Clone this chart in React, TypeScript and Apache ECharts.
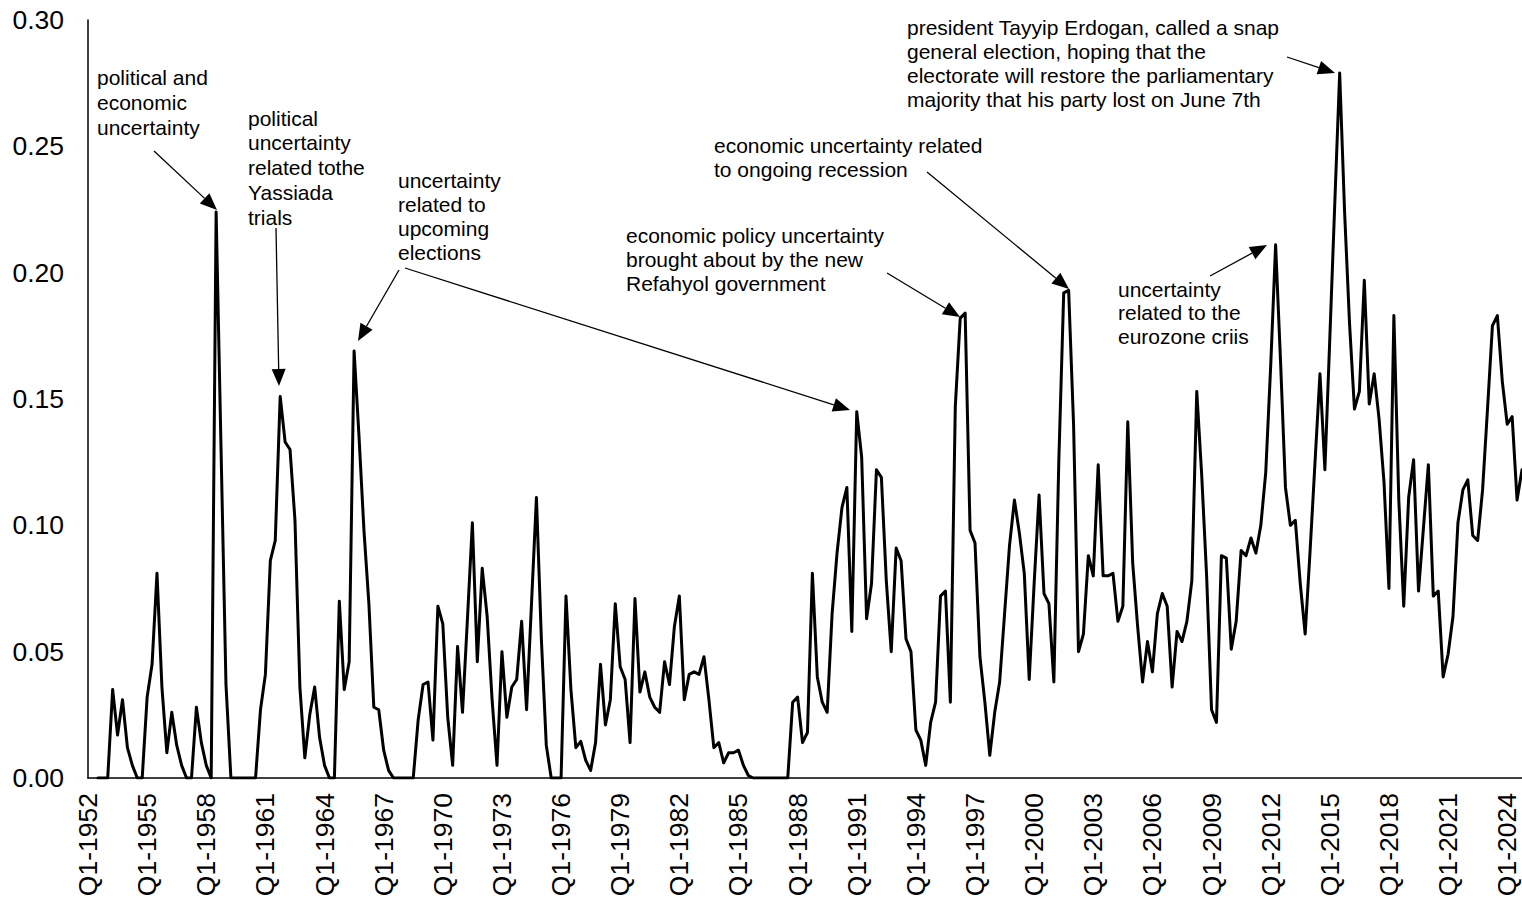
import React, { useEffect, useRef } from "react";
import * as echarts from "echarts";

// Quarterly uncertainty index, Q1-1952 .. Q4-2024 (null = no data)
const values1950s = [null, null, 0, 0, 0, 0.035, 0.017, 0.031, 0.012, 0.005, 0, 0, 0.032, 0.045, 0.081, 0.036, 0.010, 0.026, 0.013, 0.005, 0, 0, 0.028, 0.014, 0.005, 0, 0.224, 0.13, 0.037, 0, 0, 0];
const values1960s = [0, 0, 0, 0.027, 0.041, 0.086, 0.094, 0.151, 0.133, 0.130, 0.102, 0.036, 0.008, 0.025, 0.036, 0.016, 0.005, 0, 0, 0.070, 0.035, 0.046, 0.169, 0.135, 0.098, 0.069, 0.028, 0.027, 0.011, 0.003, 0, 0, 0, 0, 0, 0.023, 0.037, 0.038, 0.015, 0.068];
const values1970s = [0.061, 0.024, 0.005, 0.052, 0.026, 0.063, 0.101, 0.046, 0.083, 0.064, 0.031, 0.005, 0.050, 0.024, 0.036, 0.039, 0.062, 0.027, 0.069, 0.111, 0.055, 0.013, 0, 0, 0, 0.072, 0.035, 0.012, 0.0145, 0.007, 0.003, 0.014, 0.045, 0.021, 0.031, 0.069, 0.044, 0.039, 0.014, 0.071];
const values1980s = [0.034, 0.042, 0.032, 0.028, 0.026, 0.046, 0.037, 0.060, 0.072, 0.031, 0.041, 0.042, 0.041, 0.048, 0.031, 0.012, 0.014, 0.006, 0.010, 0.010, 0.011, 0.005, 0.001, 0, 0, 0, 0, 0, 0, 0, 0, 0.030, 0.032, 0.014, 0.018, 0.081, 0.040, 0.030, 0.026, 0.065];
const values1990s = [0.089, 0.107, 0.115, 0.058, 0.145, 0.127, 0.063, 0.077, 0.122, 0.119, 0.078, 0.050, 0.091, 0.086, 0.055, 0.050, 0.019, 0.015, 0.005, 0.022, 0.030, 0.072, 0.074, 0.030, 0.147, 0.182, 0.184, 0.098, 0.093, 0.048, 0.030, 0.009, 0.026, 0.038, 0.065, 0.092, 0.110, 0.097, 0.081, 0.039];
const values2000s = [0.077, 0.112, 0.073, 0.069, 0.038, 0.125, 0.192, 0.193, 0.140, 0.050, 0.057, 0.088, 0.080, 0.124, 0.080, 0.080, 0.081, 0.062, 0.068, 0.141, 0.085, 0.060, 0.038, 0.054, 0.042, 0.065, 0.073, 0.068, 0.036, 0.058, 0.054, 0.062, 0.078, 0.153, 0.120, 0.080, 0.027, 0.022, 0.088, 0.087];
const values2010s = [0.051, 0.062, 0.090, 0.088, 0.095, 0.089, 0.100, 0.121, 0.163, 0.211, 0.165, 0.115, 0.100, 0.102, 0.077, 0.057, 0.090, 0.125, 0.160, 0.122, 0.174, 0.227, 0.279, 0.224, 0.180, 0.146, 0.153, 0.197, 0.148, 0.160, 0.142, 0.117, 0.075, 0.183, 0.110, 0.068, 0.111, 0.126, 0.074, 0.099];
const values2020s = [0.124, 0.072, 0.074, 0.040, 0.049, 0.064, 0.101, 0.114, 0.118, 0.096, 0.094, 0.114, 0.146, 0.179, 0.183, 0.157, 0.140, 0.143, 0.110, 0.122];

const firstYear = 1952;
const lastYear = 2024;
const yTicks = [0, 0.05, 0.1, 0.15, 0.2, 0.25, 0.3];

const annotationTexts = [
  "political and\neconomic\nuncertainty",
  "political\nuncertainty\nrelated tothe\nYassiada\ntrials",
  "uncertainty\nrelated to\nupcoming\nelections",
  "economic policy uncertainty\nbrought about by the new\nRefahyol government",
  "economic uncertainty related\nto ongoing recession",
  "uncertainty\nrelated to the\neurozone criis",
  "president Tayyip Erdogan, called a snap\ngeneral election, hoping that the\nelectorate will restore the parliamentary\nmajority that his party lost on June 7th",
];

const FONT = '"Liberation Sans", Arial, sans-serif';

function buildCategories() {
  const cats: string[] = [];
  for (let y = firstYear; y <= lastYear; y++) {
    for (let q = 1; q <= 4; q++) cats.push(`Q${q}-${y}`);
  }
  return cats;
}

function arrow(x1: number, y1: number, x2: number, y2: number) {
  const L = 17;
  const W = 7;
  const dx = x2 - x1;
  const dy = y2 - y1;
  const len = Math.sqrt(dx * dx + dy * dy);
  const ux = dx / len;
  const uy = dy / len;
  const bx = x2 - ux * L;
  const by = y2 - uy * L;
  const nx = -uy;
  const ny = ux;
  return [
    {
      type: "line",
      shape: { x1, y1, x2: bx, y2: by },
      style: { stroke: "#000", lineWidth: 1.3 },
      silent: true,
    },
    {
      type: "polygon",
      shape: {
        points: [
          [x2, y2],
          [bx + nx * W, by + ny * W],
          [bx - nx * W, by - ny * W],
        ],
      },
      style: { fill: "#000" },
      silent: true,
    },
  ];
}

function textEl(text: string, x: number, firstCenter: number, lh: number) {
  return {
    type: "text",
    x,
    y: firstCenter - lh / 2,
    silent: true,
    style: {
      text,
      fontSize: 21,
      fontFamily: FONT,
      fill: "#000",
      lineHeight: lh,
      verticalAlign: "top",
      align: "left",
    },
  };
}

export default function App() {
  const ref = useRef<HTMLDivElement>(null);

  useEffect(() => {
    if (!ref.current) return;
    const chart = echarts.init(ref.current, null, { renderer: "svg" });
    const categories = buildCategories();
    const data = [
      ...values1950s,
      ...values1960s,
      ...values1970s,
      ...values1980s,
      ...values1990s,
      ...values2000s,
      ...values2010s,
      ...values2020s,
    ];

    const graphics: any[] = [
      textEl(annotationTexts[0], 97, 77, 25),
      textEl(annotationTexts[1], 248, 118, 24.75),
      textEl(annotationTexts[2], 398, 180, 24),
      textEl(annotationTexts[3], 626, 235, 24),
      textEl(annotationTexts[4], 714, 145, 24),
      textEl(annotationTexts[5], 1118, 289, 23.5),
      textEl(annotationTexts[6], 907, 27, 24),
      ...arrow(154, 151, 217, 210),
      ...arrow(276, 228, 279, 386),
      ...arrow(399, 270, 358, 341),
      ...arrow(405, 268, 850, 410),
      ...arrow(887, 273, 960, 317),
      ...arrow(927, 172, 1069, 289),
      ...arrow(1210, 276, 1267, 245),
      ...arrow(1287, 57, 1335, 73),
    ];

    chart.setOption({
      animation: false,
      backgroundColor: "#fff",
      grid: { left: 88, right: 8, top: 20, bottom: 125, containLabel: false },
      xAxis: {
        type: "category",
        data: categories,
        boundaryGap: false,
        axisLine: { show: true, lineStyle: { color: "#000", width: 1.5 } },
        axisTick: { show: false },
        splitLine: { show: false },
        axisLabel: {
          interval: 11,
          rotate: 90,
          margin: 15,
          fontSize: 26.5,
          lineHeight: 20,
          fontFamily: FONT,
          color: "#000",
          hideOverlap: false,
        },
      },
      yAxis: {
        type: "value",
        min: yTicks[0],
        max: yTicks[yTicks.length - 1],
        interval: yTicks[1] - yTicks[0],
        axisLine: { show: true, lineStyle: { color: "#000", width: 1.5 } },
        axisTick: { show: false },
        splitLine: { show: false },
        axisLabel: {
          margin: 24,
          fontSize: 26.5,
          fontFamily: FONT,
          color: "#000",
          formatter: (v: number) => v.toFixed(2),
        },
      },
      series: [
        {
          type: "line",
          data,
          showSymbol: false,
          symbol: "none",
          connectNulls: false,
          silent: true,
          lineStyle: { color: "#000", width: 3, join: "round", cap: "round" },
          z: 3,
        },
      ],
      graphic: graphics,
    });

    return () => chart.dispose();
  }, []);

  return (
    <div
      style={{
        position: "fixed",
        left: 0,
        top: 0,
        width: 1522,
        height: 903,
        overflow: "hidden",
        background: "#fff",
      }}
    >
      <div ref={ref} style={{ width: 1530, height: 903 }} />
    </div>
  );
}
